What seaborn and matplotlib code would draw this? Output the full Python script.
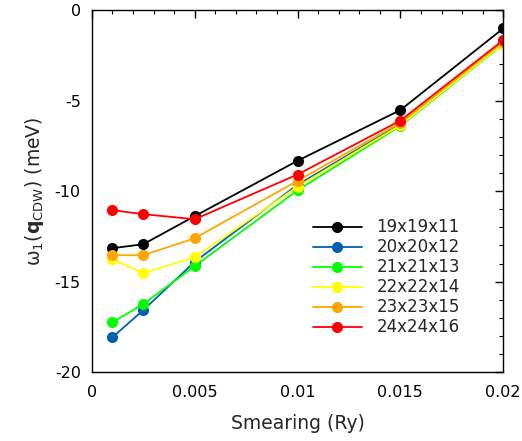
import matplotlib
matplotlib.use("Agg")
import matplotlib.pyplot as plt
from matplotlib.ticker import MultipleLocator
import numpy as np
import pandas as pd
import seaborn as sns

# Smearing values (Ry)
smearing = [0.001, 0.0025, 0.005, 0.01, 0.015, 0.02]

# omega_1(q_CDW) in meV for each k-grid
grids = ["19x19x11", "20x20x12", "21x21x13", "22x22x14", "23x23x15", "24x24x16"]
w_19 = [-13.15, -12.93, -11.38, -8.32, -5.52, -1.01]
w_20 = [-18.07, -16.57, -13.90, -9.65, -6.30, -1.80]
w_21 = [-17.24, -16.24, -14.14, -9.95, -6.40, -1.88]
w_22 = [-13.76, -14.53, -13.65, -9.75, -6.35, -1.85]
w_23 = [-13.54, -13.54, -12.60, -9.43, -6.22, -1.75]
w_24 = [-11.05, -11.27, -11.55, -9.08, -6.10, -1.66]
series = [w_19, w_20, w_21, w_22, w_23, w_24]
colors = ["#000000", "#0060b0", "#00ff00", "#ffff00", "#ffa500", "#ff0000"]

sns.set_style("white")
plt.rcParams["font.family"] = ["DejaVu Sans"]
plt.rcParams["axes.unicode_minus"] = False
plt.rcParams["mathtext.fontset"] = "dejavusans"

df = pd.concat(
    [pd.DataFrame({"smearing": smearing, "omega": vals, "grid": g})
     for g, vals in zip(grids, series)],
    ignore_index=True,
)

fig = plt.figure(figsize=(5.22, 4.41), dpi=100)
ax = fig.add_axes([0.176, 0.156, 0.788, 0.821])

sns.lineplot(
    data=df, x="smearing", y="omega", hue="grid", hue_order=grids,
    palette=colors, marker="o", markersize=8, markeredgewidth=0,
    linewidth=1.3, ax=ax, sort=False,
)

ax.set_xlim(0, 0.02)
ax.set_ylim(-20, 0)
ax.xaxis.set_minor_locator(MultipleLocator(0.001))
ax.yaxis.set_minor_locator(MultipleLocator(1))
ax.set_xticks([0, 0.005, 0.01, 0.015, 0.02])
ax.set_xticklabels(["0", "0.005", "0.01", "0.015", "0.02"])
ax.set_yticks([0, -5, -10, -15, -20])
ax.set_yticklabels(["0", "-5", "-10", "-15", "-20"])

ax.tick_params(which="both", direction="in", top=True, right=True,
               labelsize=11.5, colors="black")
ax.tick_params(which="major", length=6, width=1)
ax.tick_params(which="minor", length=3, width=0.8)
ax.tick_params(axis="x", pad=9)
ax.tick_params(axis="y", pad=8)
for s in ax.spines.values():
    s.set_color("black")
    s.set_linewidth(1.0)

ax.set_xlabel("Smearing (Ry)", fontsize=13.5, labelpad=10)
ax.set_ylabel("ω$_1$($\\mathbf{q}_{\\rm CDW}$) (meV)", fontsize=13.5, labelpad=6)

leg = ax.legend(loc="center left", bbox_to_anchor=(0.522, 0.262), frameon=False,
                fontsize=12, handlelength=2.9, handletextpad=0.9,
                labelspacing=0.12, borderaxespad=0)

fig.savefig("out.png", dpi=100)
